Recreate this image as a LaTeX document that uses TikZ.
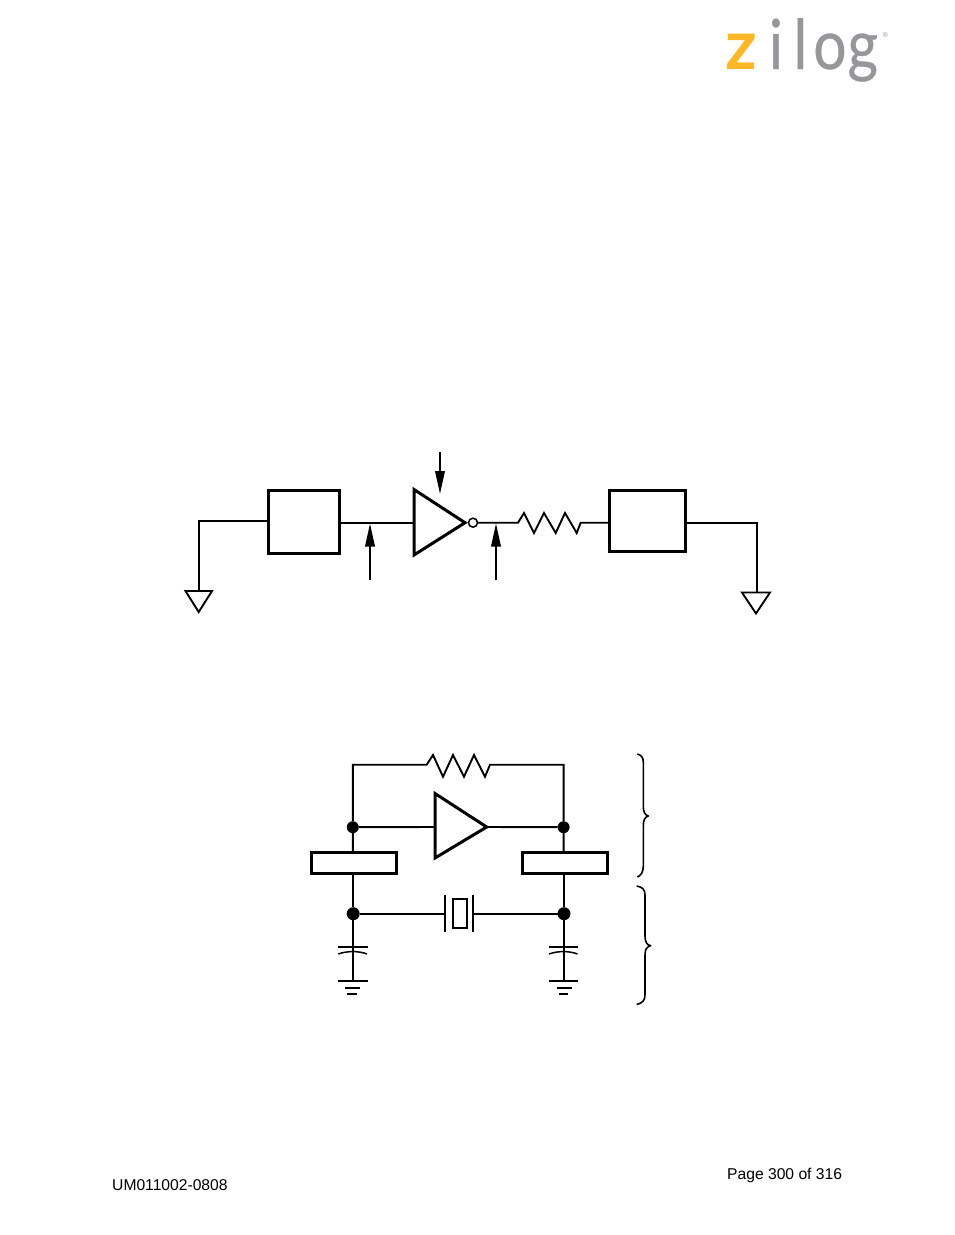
\documentclass[tikz,border=0pt]{standalone}
\usepackage{fontspec}
\setmainfont{Liberation Sans}
\newfontfamily\logofont[FakeStretch=0.85,FakeBold=0.5]{Lato}
\newfontfamily\logofontz[FakeStretch=1.0]{Lato}
\usetikzlibrary{arrows.meta}
\definecolor{logoyellow}{RGB}{252,184,40}
\definecolor{logogray}{RGB}{150,150,155}
\tikzset{
  wire/.style={line width=1.9pt,line join=miter},
  thickbox/.style={draw,line width=3.2pt,inner sep=0pt,outer sep=0pt,fill=white},
  gate/.style={line width=3pt,line join=miter,fill=white},
  probe/.style={line width=1.9pt,-{Triangle[length=23pt,width=9.5pt]}},
  groundtri/.style={line width=1.9pt,line join=miter},
  junction/.style={circle,fill=black,draw=none,inner sep=0pt,minimum size=12pt,outer sep=0pt},
  bubble/.style={circle,draw,fill=white,line width=1.5pt,inner sep=0pt,minimum size=9pt,outer sep=0pt},
  pagetext/.style={font=\fontsize{15.65pt}{18pt}\selectfont,inner sep=0pt,anchor=base west},
  bracepath/.style={line width=1.6pt,line join=round}
}
\begin{document}
\begin{tikzpicture}[x=1pt,y=-1pt]
\useasboundingbox (0,0) rectangle (954,1235);
% logo
\node[inner sep=0pt,anchor=base west] (logo) at (725,69) {\fontsize{69pt}{69pt}\selectfont{\logofontz\bfseries\color{logoyellow}z}{\logofont\color{logogray}\kern 12pt i\kern 10.5pt l\kern 6pt o\kern 1pt g}};
\node[inner sep=0pt,text=logogray] (reg) at (885.5,35) {\fontsize{7pt}{8pt}\selectfont ®};

% upper circuit
\node[thickbox,minimum width=71pt,minimum height=62.5pt] (b1) at (304.2,522) {};
\node[thickbox,minimum width=76.5pt,minimum height=60.5pt] (b2) at (647.5,521) {};
\coordinate (g1) at (199,591);
\coordinate (g2) at (756.7,592.5);
\coordinate (tri1in) at (414,523);
\coordinate (r1a) at (518,522.7);
\coordinate (r1b) at (580.7,522.7);
\coordinate (a1s) at (370,580);
\coordinate (a1e) at (370,523.5);
\coordinate (a2s) at (440,452);
\coordinate (a2e) at (440,494);
\coordinate (a3s) at (496,580);
\coordinate (a3e) at (496,523.5);

\draw[wire] (b1.west |- 0,521) -- (199,521) -- (g1);
\draw[wire] (b1.east |- tri1in) -- (tri1in);
\draw[wire] (477,522.7) -- (r1a) -- (524,513) -- (534,533) -- (544,513) -- (555.7,533) -- (565,513) -- (576.7,533) -- (r1b) -- (b2.west |- r1b);
\draw[wire] (b2.east |- r1b) -- (756.7,522.7) -- (g2);
\draw[gate] (414,489.5) -- (465,522.7) -- (414,555) -- cycle;
\node[bubble] (bub) at (473,522.7) {};
\draw[groundtri] (185.5,591) -- (212,591) -- (198.7,612) -- cycle;
\draw[groundtri] (742,592.5) -- (770,592.5) -- (756,613.5) -- cycle;
\draw[probe] (a1s) -- (a1e);
\draw[probe] (a2s) -- (a2e);
\draw[probe] (a3s) -- (a3e);

% lower circuit
\node[thickbox,minimum width=85pt,minimum height=21pt] (b3) at (353.7,863.3) {};
\node[thickbox,minimum width=85pt,minimum height=21pt] (b4) at (565.3,862.8) {};
\node[junction] (j1) at (352.8,827.2) {};
\node[junction] (j2) at (563.6,827.2) {};
\node[junction,minimum size=13pt] (j3) at (353.2,913.7) {};
\node[junction,minimum size=13pt] (j4) at (564,913.7) {};
\coordinate (tl) at (352.8,764.7);
\coordinate (tr) at (563.6,764.7);
\coordinate (c1) at (353.2,981);
\coordinate (c2) at (564,981);
\coordinate (tri2in) at (435,827);
\coordinate (tri2out) at (486.7,827);
\coordinate (xa) at (445,913.7);
\coordinate (xb) at (473.3,913.7);

\draw[wire] (b3.north -| j1) -- (j1) -- (tl) -- (426.7,764.7) -- (433,755) -- (443,776.7) -- (453,755) -- (464,776.7) -- (474,755) -- (485,776.7) -- (490,764.7) -- (tr) -- (j2) -- (b4.north -| j2);
\draw[wire] (j1) -- (tri2in);
\draw[wire] (tri2out) -- (j2);
\draw[gate] (435,793.5) -- (486.7,827) -- (435,858) -- cycle;
\draw[wire] (b3.south -| j3) -- (j3) -- (c1);
\draw[wire] (b4.south -| j4) -- (j4) -- (c2);
\draw[wire] (j3) -- (xa);
\draw[wire] (j4) -- (xb);
\draw[wire] (445,895) -- (445,931.7);
\draw[wire] (473.3,895) -- (473.3,931.7);
\draw[wire] (452.9,899.3) rectangle (467.2,928.3);

\draw[line width=2.2pt] (338.3,946.7) -- (367.7,946.7);
\draw[line width=1.5pt,fill=white] (338.3,954) .. controls (347,950.8) and (359,950.8) .. (367,954);
\draw[wire] (353.2,951.5) -- (c1);
\draw[line width=2.2pt] (338.3,981) -- (367.7,981);
\draw[line width=1.8pt] (345,987.7) -- (360,987.7);
\draw[line width=1.8pt] (347.3,994.3) -- (356.7,994.3);

\draw[line width=2.2pt] (549,946.7) -- (578.3,946.7);
\draw[line width=1.5pt,fill=white] (549,954) .. controls (557.5,950.8) and (569.5,950.8) .. (577.5,954);
\draw[wire] (564,951.5) -- (c2);
\draw[line width=2.2pt] (549,981) -- (578.3,981);
\draw[line width=1.8pt] (556.5,987.7) -- (571.5,987.7);
\draw[line width=1.8pt] (559,994.3) -- (568.3,994.3);

% braces
\draw[bracepath] (637.3,754) .. controls (641,755) and (643.3,757) .. (643.3,762) -- (643.3,806) .. controls (643.3,812) and (645,815) .. (648.3,816) .. controls (645,817) and (643.3,820) .. (643.3,826) -- (643.3,866) .. controls (643.3,872) and (641,875.5) .. (637.3,877);
\draw[bracepath] (636.7,886) .. controls (642,887) and (645,889) .. (645,895) -- (645,936) .. controls (645,942) and (647,945) .. (650.7,945.7) .. controls (647,946.5) and (645,949) .. (645,955) -- (645,995) .. controls (645,1001) and (642,1003) .. (636.7,1004.5);

% page text
\node[pagetext] (page) at (727,1179.5) {Page 300 of 316};
\node[pagetext] (doc) at (112,1190.3) {UM011002-0808};
\end{tikzpicture}
\end{document}
